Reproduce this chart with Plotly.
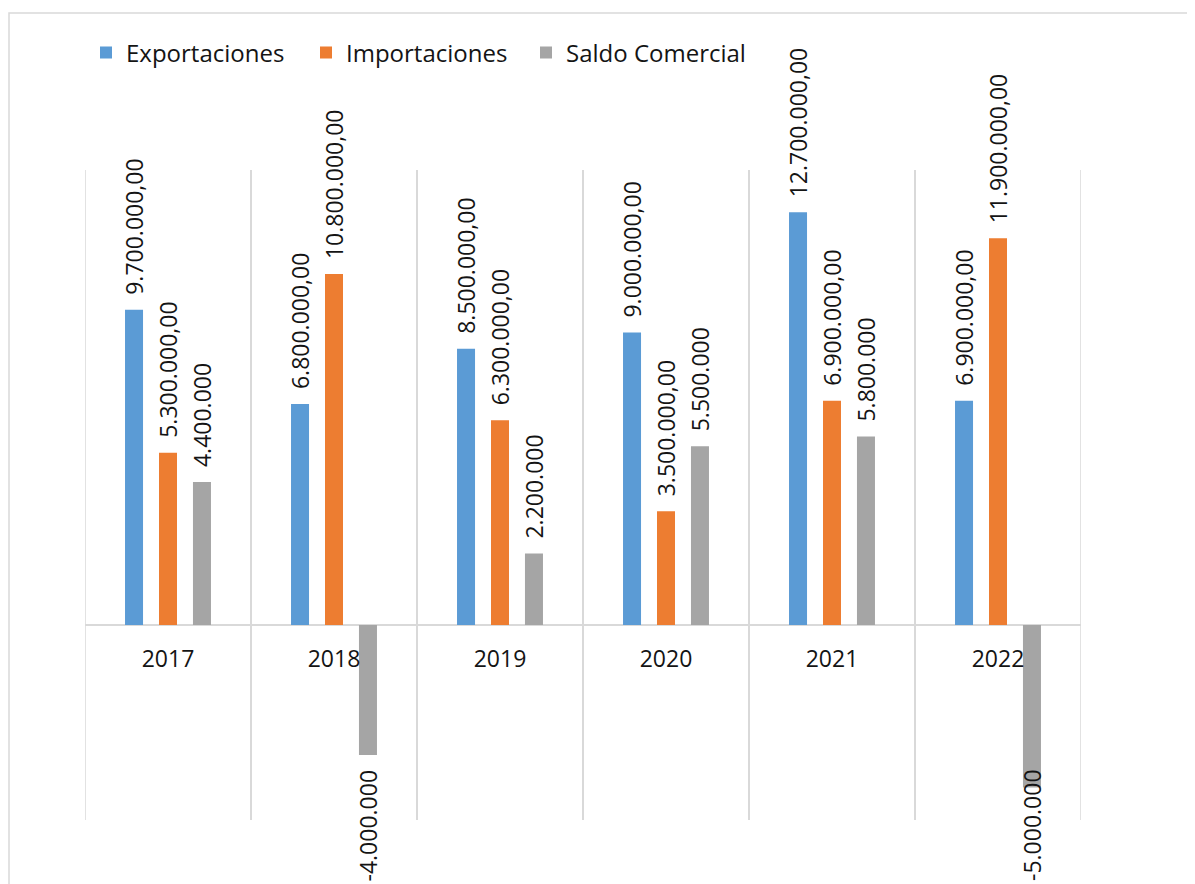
import plotly.graph_objects as go

years = ["2017", "2018", "2019", "2020", "2021", "2022"]
exportaciones = [9700000, 6800000, 8500000, 9000000, 12700000, 6900000]
importaciones = [5300000, 10800000, 6300000, 3500000, 6900000, 11900000]
saldo = [4400000, -4000000, 2200000, 5500000, 5800000, -5000000]

series_names = ["Exportaciones", "Importaciones", "Saldo Comercial"]
colors = ["#5B9BD5", "#ED7D31", "#A5A5A5"]


def fmt(v, decimals):
    s = f"{abs(v):,.{decimals}f}"
    s = s.replace(",", "X").replace(".", ",").replace("X", ".")
    return ("-" if v < 0 else "") + s


PAD = "\u00a0\u00a0"


def label(v, decimals):
    t = fmt(v, decimals)
    return PAD + t if v >= 0 else t + PAD


FONT = "Open Sans"
TXT = "#141414"
GRID = "#D9D9D9"
# page is offset by the 8px body margin
W, H = 1187, 876
L, R, T, B = 77, 1073, 162, 812
BARGAP, GROUPGAP = 0.386, 0.47

fig = go.Figure()
for i, (name, vals, col, dec) in enumerate([
    (series_names[0], exportaciones, colors[0], 2),
    (series_names[1], importaciones, colors[1], 2),
    (series_names[2], saldo, colors[2], 0),
]):
    positions = ["outside"] * len(vals)
    if i == 2:
        positions[5] = "none"  # label pushed up into the chart area, drawn below
    fig.add_trace(go.Bar(
        x=years, y=vals, name=name, marker=dict(color=col, line=dict(width=0)),
        text=[label(v, dec) for v in vals], textposition=positions, textangle=-90,
        textfont=dict(family=FONT, size=23, color=TXT),
        constraintext="none", cliponaxis=False,
    ))

px = lambda x: (x - L) / (R - L)
py = lambda y: (B - y) / (B - T)

cat_w = (R - L) / len(years)
slot = cat_w * (1 - BARGAP) / 3

annotations = [dict(
    x=len(years) - 1, xref="x", xshift=slot, y=py(H - 1), yref="paper", yanchor="bottom",
    xanchor="center", text=fmt(saldo[5], 0), textangle=-90, showarrow=False,
    font=dict(family=FONT, size=23, color=TXT),
)]

shapes = [dict(type="line", xref="x", yref="paper", x0=xv, x1=xv, y0=0, y1=1,
               line=dict(color=GRID, width=1.5), layer="below") for xv in (-0.5, len(years) - 0.5)]
shapes.append(dict(type="rect", xref="paper", yref="paper", x0=px(1), x1=px(W + 5), y0=py(5), y1=py(H + 5),
                   line=dict(color=GRID, width=1.5), fillcolor="rgba(0,0,0,0)", layer="below"))

fig.update_layout(
    width=W, height=H,
    margin=dict(l=L, r=W - R, t=T, b=H - B, pad=0),
    paper_bgcolor="white", plot_bgcolor="white",
    barmode="group", bargap=BARGAP, bargroupgap=GROUPGAP,
    font=dict(family=FONT, color=TXT),
    showlegend=True,
    legend=dict(orientation="h", x=px(78), y=py(45), xanchor="left", yanchor="middle",
                font=dict(family=FONT, size=24, color=TXT),
                itemwidth=30, traceorder="normal", entrywidth=175),
    xaxis=dict(type="category", tickson="boundaries", showgrid=True, gridcolor=GRID,
               gridwidth=1.5, ticks="", showline=False, anchor="free", position=0.3,
               tickfont=dict(family=FONT, size=23, color=TXT),
               ticklabelstandoff=18, range=[-0.5, 5.5]),
    yaxis=dict(range=[-6000000, 14000000], showgrid=False, zeroline=True,
               zerolinecolor=GRID, zerolinewidth=1.5, showticklabels=False, ticks=""),
    shapes=shapes,
    annotations=annotations,
)

fig.write_html("out.html")
